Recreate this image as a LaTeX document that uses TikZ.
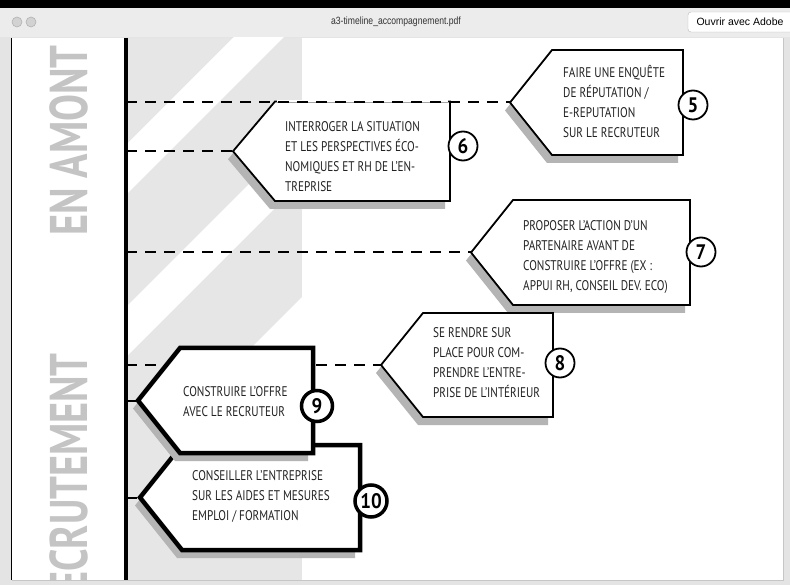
\documentclass[tikz,border=0pt]{standalone}
\usepackage{fontspec}
\setmainfont{Liberation Sans}
\newfontfamily\uifont[FakeStretch=0.82]{Liberation Sans}
\newfontfamily\notefont[FakeStretch=0.8]{PT Sans}
\newfontfamily\numfont[FakeStretch=0.9]{PT Sans}
\newfontfamily\bigfont[FakeStretch=0.76]{PT Sans}

\definecolor{band}{HTML}{E6E6E6}
\definecolor{shadowgray}{HTML}{B4B4B4}
\definecolor{labelgray}{HTML}{C4C4C4}
\definecolor{chrome}{HTML}{ECECEC}
\definecolor{winbg}{HTML}{E4E4E4}
\definecolor{ink}{HTML}{222222}

% tag shaped box with shadow: tip x, top, right, bottom, style
\newcommand{\tagbox}[5]{%
  \fill [shadowgray,shift={(-5,8)}] (#1,{(#2+#4)/2}) -- ({#1+42},#2) -- (#3,#2) -- (#3,#4) -- ({#1+42},#4) -- cycle ;
  \filldraw [fill=white,#5] (#1,{(#2+#4)/2}) -- ({#1+42},#2) -- (#3,#2) -- (#3,#4) -- ({#1+42},#4) -- cycle ;
}

\begin{document}
\begin{tikzpicture}[x=1pt,y=-1pt]

\tikzstyle{note}=[anchor=west,align=left,inner sep=0,text=ink,font=\notefont\fontsize{14}{20}\selectfont]
\tikzstyle{num}=[circle,draw,fill=white,line width=1.8pt,minimum size=29pt,inner sep=0,font=\numfont\bfseries\fontsize{21}{21}\selectfont]
\tikzstyle{bignum}=[num,line width=3.5pt,minimum size=31pt]
\tikzstyle{thinbox}=[line width=1.8pt]
\tikzstyle{thickbox}=[line width=4.5pt]
\tikzstyle{link}=[line width=2pt,dash pattern=on 11pt off 8pt]
\tikzstyle{biglabel}=[rotate=90,inner sep=0,text=labelgray,font=\bigfont\bfseries\fontsize{53}{53}\selectfont]
\tikzstyle{chromebtn}=[fill=gray!35,draw=gray!60,line width=0.6pt]

\useasboundingbox (0,0) rectangle (790,585) ;

% viewer window
\fill [black] (0,0) rectangle (790,8) ;
\fill [chrome] (0,8) rectangle (790,37) ;
\draw [gray!60] (0,37) -- (790,37) ;
\fill [winbg] (0,37.5) rectangle (790,585) ;
\draw [chromebtn] (17,22) circle (5) ;
\draw [chromebtn] (31,22) circle (5) ;
\draw (396,22) node [font=\uifont\fontsize{10.5}{11}\selectfont,text=black!80] (title) {a3-timeline\_accompagnement.pdf} ;
\draw [rounded corners=3,fill=white,draw=gray!55] (688,12) rectangle (800,32) ;
\draw (740,22) node [font=\fontsize{10.5}{11}\selectfont] (openbtn) {Ouvrir avec Adobe} ;

% page
\fill [white] (12,38) rectangle (783,580) ;
\draw [gray!45] (783,38) -- (783,580) -- (12,580) ;
\draw [black,line width=1.5pt] (11.5,38) -- (11.5,580) ;

% background band and stripes
\fill [band] (128,38) rectangle (302,580) ;
\begin{scope}
\clip (128,38) rectangle (302,377) ;
\foreach \s in {271,433,599}
  \fill [white] (\s,0) -- (\s+50,0) -- (\s-550,600) -- (\s-600,600) -- cycle ;
\end{scope}

% side labels
\begin{scope}
\clip (12,38) rectangle (124,580) ;
\draw (87,236) node [biglabel,anchor=base west] (amont) {EN AMONT D} ;
\draw (87,353) node [biglabel,anchor=base east] (recrut) {RECRUTEMENT} ;
\end{scope}

% timeline
\coordinate (top) at (126,38) ;
\coordinate (bottom) at (126,580) ;
\draw [line width=4pt] (top) -- (bottom) ;

\coordinate (t5) at (126,102.5) ;
\coordinate (t6) at (126,151.25) ;
\coordinate (t7) at (126,252.5) ;
\coordinate (t8) at (126,365) ;
\coordinate (t9) at (126,400.5) ;
\coordinate (t10) at (126,497.5) ;

% box tips
\coordinate (b5) at (510,102.5) ;
\coordinate (b6) at (233,151.25) ;
\coordinate (b7) at (471,252.5) ;
\coordinate (b8) at (381,365) ;
\coordinate (b9) at (138,400.5) ;
\coordinate (b10) at (140,497.5) ;

\draw [link] (t6) -- (b6) ;
\draw [link] (t7) -- (b7) ;
\draw [link] (t8) -- (b8) ;
\draw [link] (t9) -- (b9) ;
\draw [link] (t10) -- (b10) ;

% boxes
\tagbox{510}{50}{683}{155}{thinbox}
\tagbox{233}{101.5}{450}{201}{thinbox}
\tagbox{471}{200}{690}{305}{thinbox}
\tagbox{381}{313}{553}{417}{thinbox}
\tagbox{140}{445}{360}{550}{thickbox}
\tagbox{138}{348}{313}{453}{thickbox}

% step 5 runs along the top of box 6
\fill [white] (277,100.5) rectangle (448,102.5) ;
\draw [link] (t5) -- (b5) ;

\draw (563,101) node [note] (txt5) {FAIRE UNE ENQUÊTE\\DE RÉPUTATION /\\E-REPUTATION\\SUR LE RECRUTEUR} ;
\draw (285,157) node [note] (txt6) {INTERROGER LA SITUATION\\ET LES PERSPECTIVES ÉCO-\\NOMIQUES ET RH DE L’EN-\\TREPRISE} ;
\draw (523,256.7) node [note] (txt7) {PROPOSER L’ACTION D’UN\\PARTENAIRE AVANT DE\\CONSTRUIRE L’OFFRE (EX :\\APPUI RH, CONSEIL DEV. ECO)} ;
\draw (433,363) node [note] (txt8) {SE RENDRE SUR\\PLACE POUR COM-\\PRENDRE L’ENTRE-\\PRISE DE L’INTÉRIEUR} ;
\draw (183,401.7) node [note] (txt9) {CONSTRUIRE L’OFFRE\\AVEC LE RECRUTEUR} ;
\draw (192,496.7) node [note] (txt10) {CONSEILLER L’ENTREPRISE\\SUR LES AIDES ET MESURES\\EMPLOI / FORMATION} ;

\draw (693,105) node [num] (n5) {5} ;
\draw (463,146) node [num] (n6) {6} ;
\draw (701,252) node [num] (n7) {7} ;
\draw (560,363) node [num] (n8) {8} ;
\draw (317,406) node [bignum] (n9) {9} ;
\draw (371,501) node [bignum,minimum size=32pt] (n10) {10} ;

\end{tikzpicture}
\end{document}
